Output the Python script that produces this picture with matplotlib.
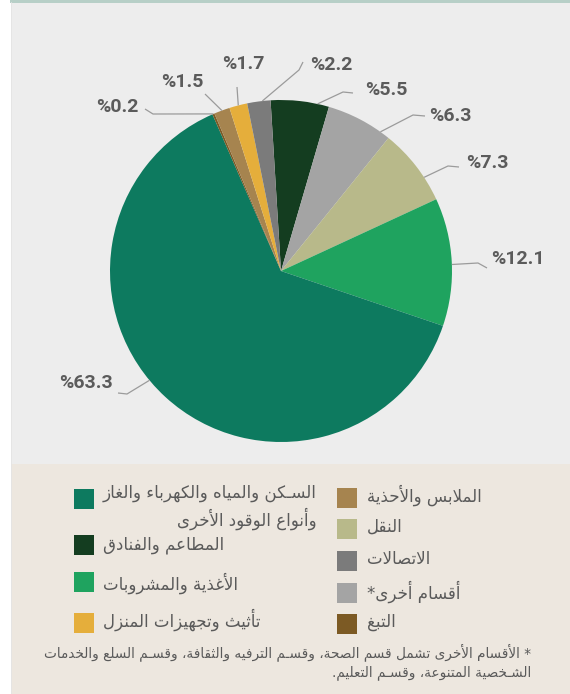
import matplotlib
matplotlib.use('Agg')
import matplotlib.pyplot as plt
from matplotlib.patches import Rectangle
import numpy as np

W, H = 570, 694

# pie order, clockwise from the top
names = ['المطاعم والفنادق', 'أقسام أخرى*', 'النقل', 'الأغذية والمشروبات',
         'السـكن والمياه والكهرباء والغاز\nوأنواع الوقود الأخرى', 'التبغ',
         'الملابس والأحذية', 'تأثيث وتجهيزات المنزل', 'الاتصالات']
shares = [5.5, 6.3, 7.3, 12.1, 63.3, 0.2, 1.5, 1.7, 2.2]
colors = ['#143d20', '#a4a4a4', '#b8b98a', '#1fa35f', '#0d7a5f',
          '#7c5a24', '#a6844f', '#e5ae3b', '#7b7b7b']

legend_left = [4, 0, 3, 7]
legend_right = [6, 2, 8, 1, 5]

footnote = ('* الأقسام الأخرى تشمل قسم الصحة، وقسـم الترفيه والثقافة، وقسـم السلع والخدمات\n'
            'الشـخصية المتنوعة، وقسـم التعليم.')

# label centre, start of leader, elbow, position of rim point inside the wedge
label_layout = {
    0: ((386, 90), (353, 93), (343, 92), 0.80),
    1: ((450, 116), (425, 116), (413, 115), 0.85),
    2: ((487, 163), (459, 167), (448, 166), 0.68),
    3: ((518, 259), (487, 268), (478, 263), 0.52),
    4: ((86, 383), (118, 393), (127, 394), 0.534),
    5: ((117, 107), (145, 109), (153, 114), 0.5),
    6: ((182, 82), (205, 94), (205, 94), 0.5),
    7: ((243, 64), (237, 87), (237, 87), 0.5),
    8: ((331, 65), (303, 62), (299, 70), 0.65),
}

# --- minimal Arabic shaping: pick presentation forms, then reverse for RTL
FORMS = {
    'ء': (0xFE80, 1), 'آ': (0xFE81, 2), 'أ': (0xFE83, 2), 'ؤ': (0xFE85, 2),
    'إ': (0xFE87, 2), 'ئ': (0xFE89, 4), 'ا': (0xFE8D, 2), 'ب': (0xFE8F, 4),
    'ة': (0xFE93, 2), 'ت': (0xFE95, 4), 'ث': (0xFE99, 4), 'ج': (0xFE9D, 4),
    'ح': (0xFEA1, 4), 'خ': (0xFEA5, 4), 'د': (0xFEA9, 2), 'ذ': (0xFEAB, 2),
    'ر': (0xFEAD, 2), 'ز': (0xFEAF, 2), 'س': (0xFEB1, 4), 'ش': (0xFEB5, 4),
    'ص': (0xFEB9, 4), 'ض': (0xFEBD, 4), 'ط': (0xFEC1, 4), 'ظ': (0xFEC5, 4),
    'ع': (0xFEC9, 4), 'غ': (0xFECD, 4), 'ف': (0xFED1, 4), 'ق': (0xFED5, 4),
    'ك': (0xFED9, 4), 'ل': (0xFEDD, 4), 'م': (0xFEE1, 4), 'ن': (0xFEE5, 4),
    'ه': (0xFEE9, 4), 'و': (0xFEED, 2), 'ى': (0xFEEF, 2), 'ي': (0xFEF1, 4),
}
LAM_ALEF = {'آ': 0xFEF5, 'أ': 0xFEF7, 'إ': 0xFEF9, 'ا': 0xFEFB}
TATWEEL = 'ـ'


def joins_next(tok):
    kind, c = tok
    if kind == 'LA':
        return False
    return c == TATWEEL or (c in FORMS and FORMS[c][1] == 4)


def joins_prev(tok):
    kind, c = tok
    if kind == 'LA':
        return True
    return c == TATWEEL or (c in FORMS and FORMS[c][1] >= 2)


def shape_line(text):
    tokens = []
    i = 0
    while i < len(text):
        if text[i] == 'ل' and i + 1 < len(text) and text[i + 1] in LAM_ALEF:
            tokens.append(('LA', text[i + 1]))
            i += 2
        else:
            tokens.append(('C', text[i]))
            i += 1
    out = []
    for k, tok in enumerate(tokens):
        p = k > 0 and joins_next(tokens[k - 1]) and joins_prev(tok)
        n = k + 1 < len(tokens) and joins_next(tok) and joins_prev(tokens[k + 1])
        kind, c = tok
        if kind == 'LA':
            out.append(chr(LAM_ALEF[c] + (1 if p else 0)))
        elif c in FORMS:
            base, nf = FORMS[c]
            if nf == 4:
                f = 3 if (p and n) else 2 if n else 1 if p else 0
            elif nf == 2:
                f = 1 if p else 0
            else:
                f = 0
            out.append(chr(base + f))
        else:
            out.append(c)
    return ''.join(reversed(out))


def ar(text):
    return '\n'.join(shape_line(s) for s in text.split('\n'))


fig = plt.figure(figsize=(W / 100, H / 100), dpi=100)
fig.patch.set_facecolor('white')

# background panels, legend and footnote, in pixel coordinates
bg = fig.add_axes([0, 0, 1, 1], zorder=0)
bg.set_xlim(0, W)
bg.set_ylim(H, 0)
bg.axis('off')
bg.add_patch(Rectangle((11, 0), W - 11, 464, color='#ededed', lw=0))
bg.add_patch(Rectangle((11, 464), W - 11, H - 464, color='#ede7df', lw=0))
bg.add_patch(Rectangle((10, 0), W - 10, 2.5, color='#b7cfc7', lw=0))
bg.plot([11, 11], [2, H], color='#e4e4e4', lw=0.6)

txt_col = '#5a5a5a'
ar_font = 'DejaVu Sans'

left_sw = [499, 545, 582, 623]
left_tx = [507, 545, 583, 620]
for idx, ys, yt in zip(legend_left, left_sw, left_tx):
    bg.add_patch(Rectangle((74, ys - 10), 20, 20, color=colors[idx], lw=0))
    bg.text(103, yt, ar(names[idx]), ha='left', va='center', multialignment='right',
            fontsize=12, color=txt_col, family=ar_font, linespacing=1.3)

right_sw = [498, 529, 561, 593, 624]
right_tx = [495, 527, 559, 592, 622]
for idx, ys, yt in zip(legend_right, right_sw, right_tx):
    bg.add_patch(Rectangle((337, ys - 10), 20, 20, color=colors[idx], lw=0))
    bg.text(367, yt, ar(names[idx]), ha='left', va='center',
            fontsize=12, color=txt_col, family=ar_font)

bg.text(531, 662, ar(footnote), ha='right', va='center', multialignment='right',
        fontsize=9.8, color=txt_col, family=ar_font, linespacing=1.4)

# pie: centre (281, 271) px, radius 171 px
cx, cy, r = 281, 271, 171
pax = fig.add_axes([(cx - r) / W, (H - cy - r) / H, 2 * r / W, 2 * r / H], zorder=1)
wedges, _ = pax.pie(shares, colors=colors, startangle=93.5, counterclock=False,
                    wedgeprops=dict(linewidth=0))
pax.set_xlim(-1, 1)
pax.set_ylim(-1, 1)
pax.axis('off')

ov = fig.add_axes([0, 0, 1, 1], zorder=2)
ov.set_xlim(0, W)
ov.set_ylim(H, 0)
ov.axis('off')
ov.patch.set_alpha(0)

to_px = ov.transData.inverted()
for i, (pos, start, elbow, frac) in label_layout.items():
    w = wedges[i]
    a = np.deg2rad(w.theta2 - frac * (w.theta2 - w.theta1))
    rim = to_px.transform(pax.transData.transform((np.cos(a), np.sin(a))))
    ov.plot([start[0], elbow[0], rim[0]], [start[1], elbow[1], rim[1]],
            color='#9b9b9b', lw=0.9, solid_capstyle='butt')
    ov.text(pos[0], pos[1], '%' + f'{shares[i]:.1f}', ha='center', va='center',
            fontsize=14, fontweight='bold', color='#5b5b5b', family='Roboto')

fig.savefig('out.png', dpi=100)
